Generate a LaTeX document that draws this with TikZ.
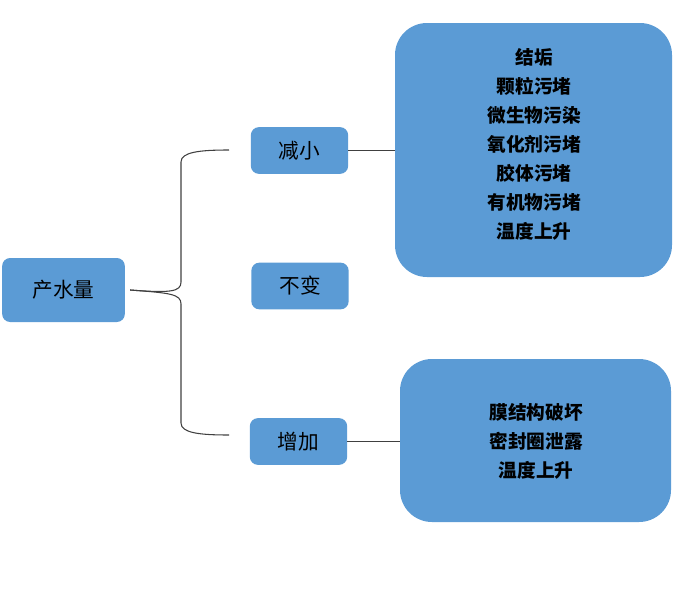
\documentclass[tikz,border=0pt]{standalone}
\usepackage{fontspec}
\newfontfamily\cjk{Noto Sans CJK SC}
\definecolor{boxblue}{HTML}{5B9BD5}
\definecolor{linegray}{HTML}{404040}
\begin{document}
\begin{tikzpicture}[x=0.75pt,y=-0.75pt,
  smallbox/.style={fill=boxblue,rounded corners=6pt,minimum width=73pt,minimum height=35pt,font=\cjk\fontsize{15.5}{18}\selectfont,text=black,inner sep=0pt},
  bigbox/.style={fill=boxblue,rounded corners=24pt,inner sep=0pt},
  bigtext/.style={text=black,font=\cjk\bfseries\fontsize{14}{21.75}\selectfont,align=center,inner sep=0pt},
  conn/.style={draw=linegray,line width=0.8pt}]
\useasboundingbox (0,0) rectangle (700,600);
\node[smallbox,minimum width=92pt,minimum height=48pt] (src) at (63.5,290) {产水量};
\node[smallbox] (dec) at (299.5,150.5) {减小};
\node[smallbox] (same) at (300,286) {不变};
\node[smallbox] (inc) at (298.5,441.5) {增加};
\node[bigbox,minimum width=207.75pt,minimum height=190.5pt] (r1) at (533.5,150) {};
\node[bigtext] (r1t) at (534,144) {结垢\\颗粒污堵\\微生物污染\\氧化剂污堵\\胶体污堵\\有机物污堵\\温度上升};
\node[bigbox,minimum width=203.25pt,minimum height=122.25pt] (r2) at (535.5,440.5) {};
\node[bigtext] (r2t) at (536,441) {膜结构破坏\\密封圈泄露\\温度上升};
\coordinate (bt) at (229,150);
\coordinate (bb) at (229,435);
\draw[conn] ([xshift=3.75pt]src.east) .. controls (170,293) and (181,292) .. (181,282) -- (181,162) .. controls (181,152) and (200,150) .. (bt);
\draw[conn] ([xshift=3.75pt]src.east) .. controls (170,293) and (181,294) .. (181,304) -- (181,423) .. controls (181,433) and (200,435) .. (bb);
\draw[conn] (dec.east) -- (dec.east -| r1.west);
\draw[conn] (inc.east) -- (inc.east -| r2.west);
\end{tikzpicture}
\end{document}
